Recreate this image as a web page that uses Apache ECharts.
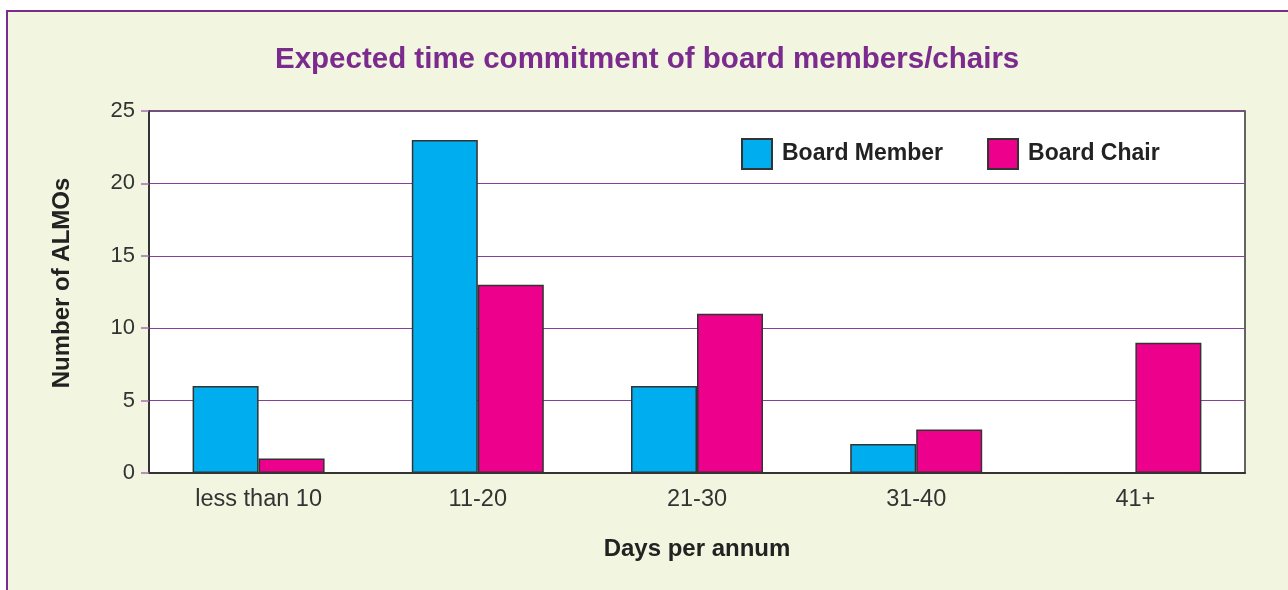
<!DOCTYPE html>
<html>
<head>
<meta charset="utf-8">
<script src="https://cdn.jsdelivr.net/npm/echarts@6/dist/echarts.min.js"></script>
<style>
  html, body { margin: 0; padding: 0; background: #fff; }
  #panel {
    position: absolute; left: 6px; top: 10px; width: 1282px; height: 580px;
    background: #f2f5df; border-left: 2px solid #7b2a8e; border-top: 2px solid #7b2a8e;
  }
  #chart { position: absolute; left: 0; top: 0; width: 1288px; height: 590px; }
</style>
</head>
<body>
<div id="panel"></div>
<div id="chart"></div>
<script>
// 数据
var categories = ['less than 10', '11-20', '21-30', '31-40', '41+'];
var boardMember = [6, 23, 6, 2, 0];
var boardChair = [1, 13, 11, 3, 9];

var purple = '#7b2a8e';
var chart = echarts.init(document.getElementById('chart'));

var option = {
  animation: false,
  color: ['#00aeef', '#ec008c'],
  textStyle: { fontFamily: 'Liberation Sans, Arial, sans-serif' },
  title: {
    text: 'Expected time commitment of board members/chairs',
    left: 270,
    top: 40,
    textStyle: { color: purple, fontSize: 29.5, fontWeight: 'bold' }
  },
  legend: {
    left: 736,
    top: 133,
    itemWidth: 30,
    itemHeight: 30,
    itemGap: 44,
    icon: 'rect',
    textStyle: { color: '#222', fontSize: 23, fontWeight: 'bold', padding: [0, 0, 0, 5] },
    data: ['Board Member', 'Board Chair']
  },
  grid: {
    left: 149,
    right: 43,
    top: 111,
    bottom: 117,
    show: true,
    backgroundColor: '#fff',
    borderColor: '#333',
    borderWidth: 1.5
  },
  xAxis: {
    type: 'category',
    data: categories,
    name: 'Days per annum',
    nameLocation: 'middle',
    nameGap: 64,
    nameTextStyle: { color: '#222', fontSize: 24, fontWeight: 'bold' },
    axisLine: { lineStyle: { color: '#333', width: 2 } },
    axisTick: { show: false },
    axisLabel: { color: '#333', fontSize: 23.5, margin: 15 }
  },
  yAxis: {
    type: 'value',
    min: 0,
    max: 25,
    interval: 5,
    name: 'Number of ALMOs',
    nameLocation: 'middle',
    nameGap: 75,
    nameTextStyle: { color: '#222', fontSize: 24, fontWeight: 'bold', padding: [0, 0, 0, 18] },
    axisLine: { show: true, lineStyle: { color: '#333', width: 2 } },
    axisTick: { show: true, length: 8, lineStyle: { color: '#a36fb3', width: 1.5 } },
    axisLabel: { color: '#333', fontSize: 22, margin: 14 },
    splitLine: { lineStyle: { color: '#86409a', width: 1 } }
  },
  series: [
    {
      name: 'Board Member',
      type: 'bar',
      barWidth: 66,
      barGap: '0%',
      itemStyle: { borderColor: '#333', borderWidth: 1.5 },
      data: boardMember
    },
    {
      name: 'Board Chair',
      type: 'bar',
      barWidth: 66,
      barGap: '0%',
      itemStyle: { borderColor: '#333', borderWidth: 1.5 },
      data: boardChair
    }
  ]
};

chart.setOption(option);
window.onresize = chart.resize;
</script>
</body>
</html>
